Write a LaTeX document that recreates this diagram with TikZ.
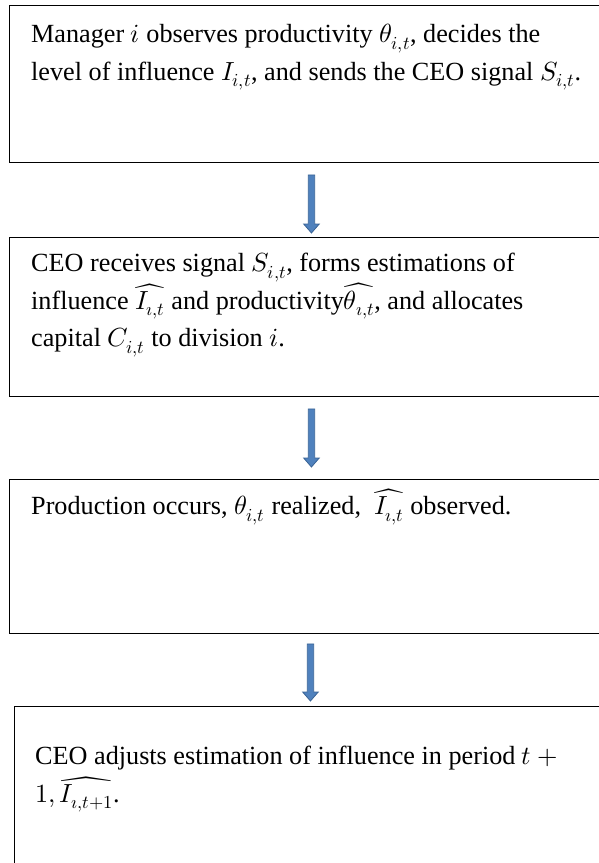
\documentclass[tikz,border=0pt]{standalone}
\usepackage{fontspec}
\usepackage{unicode-math}
\setmainfont{Liberation Serif}
\usetikzlibrary{calc}
\definecolor{arrfill}{HTML}{4F81BD}
\definecolor{arrline}{HTML}{3A6496}
\tikzset{
  box/.style={draw=black, line width=0.9pt, rectangle, anchor=north west, inner sep=0pt},
  txt/.style={anchor=north west, inner sep=0pt, align=left, font=\fontsize{26.2}{37.5}\selectfont},
  blockarr/.style={fill=arrfill, draw=arrline, line width=0.8pt, line join=miter}
}
\newcommand{\blockarrow}[2]{%
  \draw[blockarr] ($(#1)+(-3.2pt,0pt)$) -- ($(#1)+(3.2pt,0pt)$) -- ($(#2)+(3.2pt,9pt)$) -- ($(#2)+(7.8pt,9pt)$) -- (#2) -- ($(#2)+(-7.8pt,9pt)$) -- ($(#2)+(-3.2pt,9pt)$) -- cycle;}
\begin{document}
\begin{tikzpicture}[x=1pt,y=-1pt]
\useasboundingbox (0,0) rectangle (599,863);
\clip (0,0) rectangle (599,863);
\node[box, minimum width=604pt, minimum height=157pt] (b1) at (9,5) {};
\node[box, minimum width=604pt, minimum height=159pt] (b2) at (9,237) {};
\node[box, minimum width=604pt, minimum height=154pt] (b3) at (9,479) {};
\node[box, minimum width=590pt, minimum height=170pt] (b4) at (14,706) {};
\node[txt] (t1) at (31,24) {Manager $i$ observes productivity $\theta_{i,t}$, decides the\\level of influence $I_{i,t}$, and sends the CEO signal $S_{i,t}$.};
\node[txt] (t2) at (31,253) {CEO receives signal $S_{i,t}$, forms estimations of\\influence $\widehat{I_{\imath,t}}$ and productivity$\widehat{\theta_{\imath,t}}$, and allocates\\capital $C_{i,t}$ to division $i$.};
\node[txt] (t3) at (31,489) {Production occurs, $\theta_{i,t}$ realized,\ \ $\widehat{I_{\imath,t}}$ observed.};
\node[txt] (t4) at (35,746) {CEO adjusts estimation of influence in period $t+{}$\\$1, \widehat{I_{\imath,t+1}}$.};
\coordinate (s1) at ($(b1.south)+(0pt,-12pt)$);
\coordinate (e1) at ($(b2.north)+(0pt,4pt)$);
\coordinate (s2) at ($(b2.south)+(0pt,-12pt)$);
\coordinate (e2) at ($(b3.north)+(0pt,12pt)$);
\coordinate (s3) at ($(b3.south)+(-1pt,-10pt)$);
\coordinate (e3) at ($(s3|-b4.north)+(0pt,5pt)$);
\blockarrow{s1}{e1}
\blockarrow{s2}{e2}
\blockarrow{s3}{e3}
\end{tikzpicture}
\end{document}
